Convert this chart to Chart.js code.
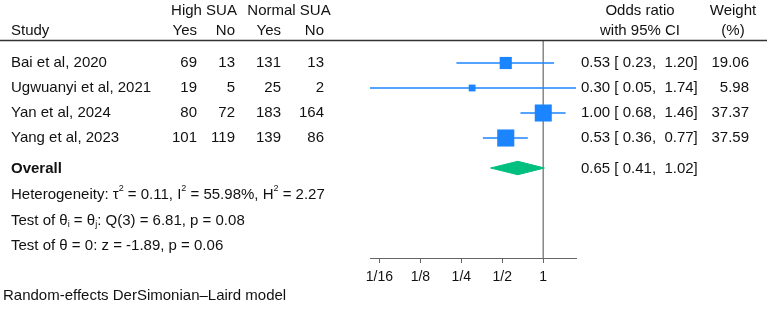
<!DOCTYPE html>
<html>
<head>
<meta charset="utf-8">
<script src="https://cdn.jsdelivr.net/npm/chart.js@4.4.1/dist/chart.umd.min.js"></script>
<style>
    body { margin: 0; background: #ffffff; }
    canvas { display: block; }
</style>
</head>
<body>
<canvas id="forestCanvas" width="767" height="312"></canvas>
<script>
// study level data
const studies = ['Bai et al, 2020', 'Ugwuanyi et al, 2021', 'Yan et al, 2024', 'Yang et al, 2023'];
const highYes = [69, 19, 80, 101];
const highNo = [13, 5, 72, 119];
const normalYes = [131, 25, 183, 139];
const normalNo = [13, 2, 164, 86];
const oddsRatio = [0.53, 0.30, 1.00, 0.53];
const ciLower = [0.23, 0.05, 0.68, 0.36];
const ciUpper = [1.20, 1.74, 1.46, 0.77];
const weights = [19.06, 5.98, 37.37, 37.59];

// pooled estimate
const overallOR = 0.65;
const overallLower = 0.41;
const overallUpper = 1.02;

const xTicks = [1/16, 1/8, 1/4, 1/2, 1];
const xTickLabels = ['1/16', '1/8', '1/4', '1/2', '1'];

const studyRows = [1, 2, 3, 4];
const overallRow = 5.2;

const blue = '#1a85ff';
const green = '#00bf7f';
const textColor = '#111111';
const fontFamily = '"Liberation Sans", Arial, Helvetica, sans-serif';
const bodyFont = '15px ' + fontFamily;
const boldFont = 'bold 15px ' + fontFamily;
const smallFont = '9px ' + fontFamily;

const canvas = document.getElementById('forestCanvas');
const context = canvas.getContext('2d');

function fmt(v) {
    return v.toFixed(2);
}

function ciText(est, lo, hi) {
    return fmt(est) + ' [ ' + fmt(lo) + ',  ' + fmt(hi) + ']';
}

// CI whiskers, one dataset each
const ciDatasets = studies.map(function(name, i) {
    return {
        label: name + ' CI',
        data: [{x: ciLower[i], y: studyRows[i]}, {x: ciUpper[i], y: studyRows[i]}],
        showLine: true,
        borderColor: blue,
        borderWidth: 1.5,
        pointRadius: 0,
        order: 2
    };
});

const squareDataset = {
    label: 'Odds ratio',
    data: studies.map((s, i) => ({x: oddsRatio[i], y: studyRows[i]})),
    pointStyle: 'rect',
    pointRadius: ctx => 1.97 * Math.sqrt(weights[ctx.dataIndex]),
    pointBackgroundColor: blue,
    pointBorderWidth: 0,
    showLine: false,
    order: 0
};

const diamondHalf = 0.27;
const diamondDataset = {
    label: 'Overall',
    data: [
        {x: overallLower, y: overallRow},
        {x: overallOR, y: overallRow - diamondHalf},
        {x: overallUpper, y: overallRow},
        {x: overallOR, y: overallRow + diamondHalf},
        {x: overallLower, y: overallRow}
    ],
    showLine: true,
    fill: 'shape',
    backgroundColor: green,
    borderColor: green,
    borderWidth: 1,
    pointRadius: 0,
    order: 0
};

const yMin = 0.12;
const yMax = 8.8;

const nullLine = {
    label: 'no effect',
    data: [{x: 1, y: yMin}, {x: 1, y: yMax}],
    showLine: true,
    borderColor: '#8a8a8a',
    borderWidth: 1,
    pointRadius: 0,
    order: 3
};

function drawRuns(ctx, runs, x, y) {
    let cx = x;
    runs.forEach(function(run) {
        const text = run[0];
        const mode = run[1];
        if (mode === 'sup') {
            ctx.font = smallFont;
            ctx.fillText(text, cx, y - 6);
        } else if (mode === 'sub') {
            ctx.font = smallFont;
            ctx.fillText(text, cx, y + 4);
        } else {
            ctx.font = bodyFont;
            ctx.fillText(text, cx, y);
        }
        cx += ctx.measureText(text).width;
    });
}

const tablePlugin = {
    id: 'forestTable',
    afterDraw(chart) {
        const ctx = chart.ctx;
        const yScale = chart.scales.y;
        ctx.save();
        ctx.fillStyle = textColor;
        ctx.textBaseline = 'middle';

        // header
        ctx.font = bodyFont;
        ctx.textAlign = 'center';
        ctx.fillText('High SUA', 204, 11);
        ctx.fillText('Normal SUA', 289, 11);
        ctx.fillText('Odds ratio', 640, 11);
        ctx.fillText('Weight', 733, 11);
        ctx.fillText('with 95% CI', 640, 31);
        ctx.fillText('(%)', 733, 31);
        ctx.textAlign = 'left';
        ctx.fillText('Study', 11, 31);
        ctx.textAlign = 'right';
        ctx.fillText('Yes', 197, 31);
        ctx.fillText('No', 235, 31);
        ctx.fillText('Yes', 281, 31);
        ctx.fillText('No', 324, 31);

        ctx.strokeStyle = '#333333';
        ctx.lineWidth = 1.5;
        ctx.beginPath();
        ctx.moveTo(0, 40.5);
        ctx.lineTo(767, 40.5);
        ctx.stroke();

        // study rows
        studies.forEach(function(name, i) {
            const y = yScale.getPixelForValue(studyRows[i]);
            ctx.textAlign = 'left';
            ctx.fillText(name, 11, y);
            ctx.fillText(ciText(oddsRatio[i], ciLower[i], ciUpper[i]), 581, y);
            ctx.textAlign = 'right';
            ctx.fillText(String(highYes[i]), 197, y);
            ctx.fillText(String(highNo[i]), 235, y);
            ctx.fillText(String(normalYes[i]), 281, y);
            ctx.fillText(String(normalNo[i]), 324, y);
            ctx.fillText(fmt(weights[i]), 749, y);
        });

        // overall
        const oy = yScale.getPixelForValue(overallRow) + 1;
        ctx.textAlign = 'left';
        ctx.font = boldFont;
        ctx.fillText('Overall', 11, oy);
        ctx.font = bodyFont;
        ctx.fillText(ciText(overallOR, overallLower, overallUpper), 581, oy);

        drawRuns(ctx, [['Heterogeneity: τ'], ['2', 'sup'], [' = 0.11, I'], ['2', 'sup'],
            [' = 55.98%, H'], ['2', 'sup'], [' = 2.27']], 11, 195);
        drawRuns(ctx, [['Test of θ'], ['i', 'sub'], [' = θ'], ['j', 'sub'],
            [': Q(3) = 6.81, p = 0.08']], 11, 221);
        drawRuns(ctx, [['Test of θ = 0: z = -1.89, p = 0.06']], 11, 246);

        ctx.font = bodyFont;
        ctx.fillText('Random-effects DerSimonian–Laird model', 3, 296);
        ctx.restore();
    }
};

const forestChart = new Chart(context, {
    type: 'scatter',
    data: {
        datasets: [squareDataset, diamondDataset].concat(ciDatasets, [nullLine])
    },
    options: {
        responsive: false,
        animation: false,
        layout: {
            padding: {
                left: 370,
                right: 191,
                top: 41,
                bottom: 0
            }
        },
        plugins: {
            legend: { display: false },
            tooltip: { enabled: false }
        },
        scales: {
            x: {
                type: 'logarithmic',
                position: 'bottom',
                min: Math.pow(2, -4.23),
                max: 1.74,
                bounds: 'data',
                afterBuildTicks: function(scale) {
                    scale.ticks = xTicks.map(v => ({value: v}));
                },
                afterFit: function(scale) {
                    scale.height = 54;
                },
                ticks: {
                    callback: (value, index) => xTickLabels[index],
                    color: textColor,
                    font: { family: fontFamily, size: 14 },
                    padding: 6,
                    maxRotation: 0,
                    autoSkip: false
                },
                grid: {
                    drawOnChartArea: false,
                    drawTicks: true,
                    tickLength: 5,
                    color: '#666666'
                },
                border: {
                    display: true,
                    color: '#666666',
                    width: 1
                }
            },
            y: {
                type: 'linear',
                display: false,
                reverse: true,
                min: yMin,
                max: yMax
            }
        }
    },
    plugins: [tablePlugin]
});
</script>
</body>
</html>
